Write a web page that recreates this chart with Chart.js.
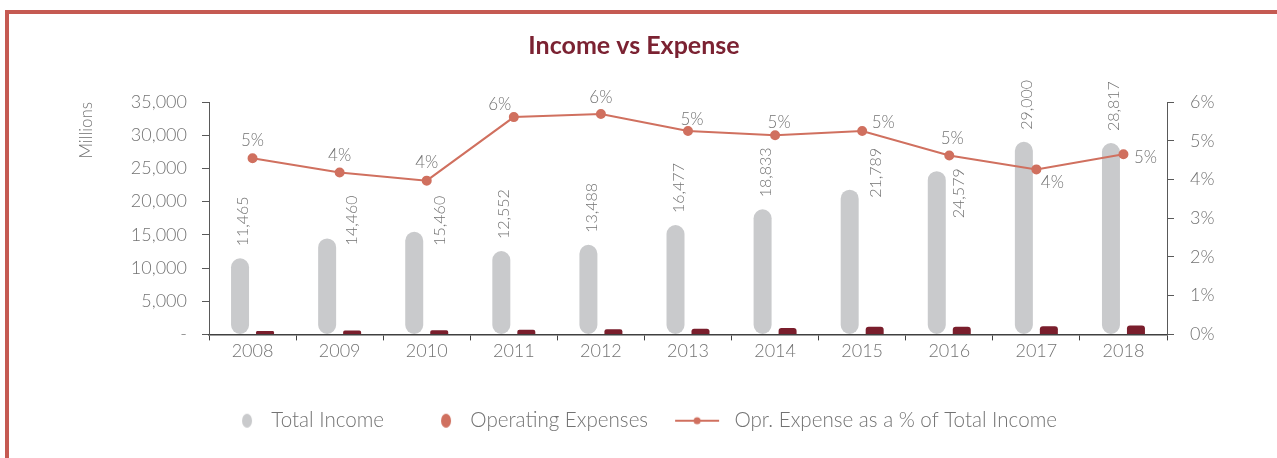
<!DOCTYPE html>
<html>
<head>
<meta charset="utf-8">
<title>Income vs Expense</title>
<script src="https://cdn.jsdelivr.net/npm/chart.js@4.4.1/dist/chart.umd.min.js"></script>
<style>
  html, body { margin: 0; padding: 0; background: #fff; }
  .frame { position: relative; width: 1277px; height: 458px; overflow: hidden; }
  .frame .edge { position: absolute; left: 5px; top: 10px; right: -10px; bottom: -10px;
    border-left: 4px solid #C55A52; border-top: 4px solid #C55A52; }
  canvas { position: absolute; left: 0; top: 0; }
</style>
</head>
<body>
<div class="frame">
  <div class="edge"></div>
  <canvas id="myChart" width="1277" height="458"></canvas>
</div>
<script>
const years = ['2008', '2009', '2010', '2011', '2012', '2013', '2014', '2015', '2016', '2017', '2018'];
const totalIncome = [11465, 14460, 15460, 12552, 13488, 16477, 18833, 21789, 24579, 29000, 28817];
const operatingExpenses = [520, 605, 615, 705, 765, 865, 970, 1145, 1135, 1235, 1340];
const expensePct = [4.55, 4.18, 3.97, 5.61, 5.69, 5.25, 5.14, 5.25, 4.62, 4.26, 4.65];
const amountAxis = { min: 0, max: 35000, step: 5000 };
const pctAxis = { min: 0, max: 6, step: 1 };

// label nudges (px), like the hand-moved labels in the original
const incomeLabelShift = { 1: [25, 7], 2: [26, 14], 7: [26, 8], 8: [22, 47] };
const pctLabelShift = [[0, -18], [0, -17], [0, -18], [-14, -13], [0, -16], [4, -12],
                       [4, -13], [21, -9], [3, -17], [16, 13], [22, 3]];

const FONT = 'Lato, "Open Sans", sans-serif';
const GREY_TEXT = '#737373';
Chart.defaults.font.family = FONT;
Chart.defaults.font.weight = '300';
Chart.defaults.color = GREY_TEXT;

function makeIcon(draw) {
    const c = document.createElement('canvas');
    c.width = 50; c.height = 20;
    draw(c.getContext('2d'));
    return c;
}
const legendIcons = [
    makeIcon(g => { g.fillStyle = '#C9CACC'; g.beginPath(); g.ellipse(36, 10, 5, 7, 0, 0, Math.PI * 2); g.fill(); }),
    makeIcon(g => { g.fillStyle = '#D0705F'; g.beginPath(); g.ellipse(36, 10, 5, 7, 0, 0, Math.PI * 2); g.fill(); }),
    makeIcon(g => {
        g.strokeStyle = '#D0705F'; g.lineWidth = 2;
        g.beginPath(); g.moveTo(1, 10); g.lineTo(45, 10); g.stroke();
        g.fillStyle = '#D0705F'; g.beginPath(); g.arc(23, 10, 3.5, 0, Math.PI * 2); g.fill();
    })
];

const valueLabels = {
    id: 'valueLabels',
    afterDatasetsDraw(chart) {
        const { ctx } = chart;
        ctx.save();
        ctx.fillStyle = GREY_TEXT;
        ctx.font = '300 16px ' + FONT;
        ctx.textAlign = 'left';
        ctx.textBaseline = 'middle';
        chart.getDatasetMeta(0).data.forEach((bar, i) => {
            const [dx, dy] = incomeLabelShift[i] || [3, -12];
            ctx.save();
            ctx.translate(bar.x + dx, bar.y + dy);
            ctx.rotate(-Math.PI / 2);
            ctx.fillText(totalIncome[i].toLocaleString('en-US'), 0, 0);
            ctx.restore();
        });
        ctx.font = '300 17px ' + FONT;
        ctx.textAlign = 'center';
        chart.getDatasetMeta(2).data.forEach((pt, i) => {
            const [dx, dy] = pctLabelShift[i];
            ctx.fillText(Math.round(expensePct[i]) + '%', pt.x + dx, pt.y + dy);
        });
        ctx.restore();
    }
};

const ctx = document.getElementById('myChart').getContext('2d');
const myChart = new Chart(ctx, {
    type: 'bar',
    data: {
        labels: years,
        datasets: [{
            label: 'Total Income',
            data: totalIncome,
            backgroundColor: '#C9CACC',
            borderRadius: 9,
            borderSkipped: false,
            categoryPercentage: 0.574,
            barPercentage: 0.72,
            yAxisID: 'y',
            order: 2
        }, {
            label: 'Operating Expenses',
            data: operatingExpenses,
            backgroundColor: '#7A1E2C',
            borderRadius: 3,
            categoryPercentage: 0.574,
            barPercentage: 0.72,
            yAxisID: 'y',
            order: 2
        }, {
            type: 'line',
            label: 'Opr. Expense as a % of Total Income',
            data: expensePct,
            borderColor: '#D0705F',
            backgroundColor: '#D0705F',
            borderWidth: 2,
            pointRadius: 4,
            pointHoverRadius: 4,
            yAxisID: 'y1',
            order: 1
        }]
    },
    options: {
        responsive: false,
        animation: false,
        layout: { padding: { left: 0, right: 9, top: 0, bottom: 17 } },
        scales: {
            x: {
                grid: { drawOnChartArea: false, offset: true, tickLength: 6, color: '#404040' },
                border: { color: '#404040', width: 1.5 },
                ticks: { color: GREY_TEXT, font: { size: 18 }, padding: 0 },
                afterFit: s => { s.height = 50; }
            },
            y: {
                position: 'left',
                min: amountAxis.min,
                max: amountAxis.max,
                grid: { drawOnChartArea: false, tickLength: 7, color: '#595959' },
                border: { color: '#595959' },
                ticks: {
                    stepSize: amountAxis.step,
                    padding: 15,
                    font: { size: 18 },
                    callback: v => v === 0 ? '-' : v.toLocaleString('en-US')
                },
                title: { display: true, text: 'Millions', align: 'end', font: { size: 17 }, padding: { top: 76, bottom: 0 } },
                afterFit: s => { s.width = 209; }
            },
            y1: {
                position: 'right',
                min: pctAxis.min,
                max: pctAxis.max,
                grid: { drawOnChartArea: false, tickLength: 7, color: '#595959' },
                border: { color: '#595959' },
                ticks: { stepSize: pctAxis.step, padding: 16, font: { size: 18 }, callback: v => v + '%' },
                afterFit: s => { s.width = 101; }
            }
        },
        plugins: {
            title: {
                display: true,
                text: 'Income vs Expense',
                color: '#7B2232',
                font: { size: 25, weight: 'bold' },
                padding: { top: 31, bottom: 41 }
            },
            legend: {
                position: 'bottom',
                labels: {
                    usePointStyle: true,
                    pointStyleWidth: 50,
                    color: GREY_TEXT,
                    font: { size: 20.6 },
                    padding: 26,
                    sort: (a, b) => a.datasetIndex - b.datasetIndex,
                    generateLabels: chart => Chart.defaults.plugins.legend.labels.generateLabels(chart)
                        .map(item => ({ ...item, pointStyle: legendIcons[item.datasetIndex] }))
                }
            },
            tooltip: { enabled: false }
        }
    },
    plugins: [valueLabels]
});
</script>
</body>
</html>
